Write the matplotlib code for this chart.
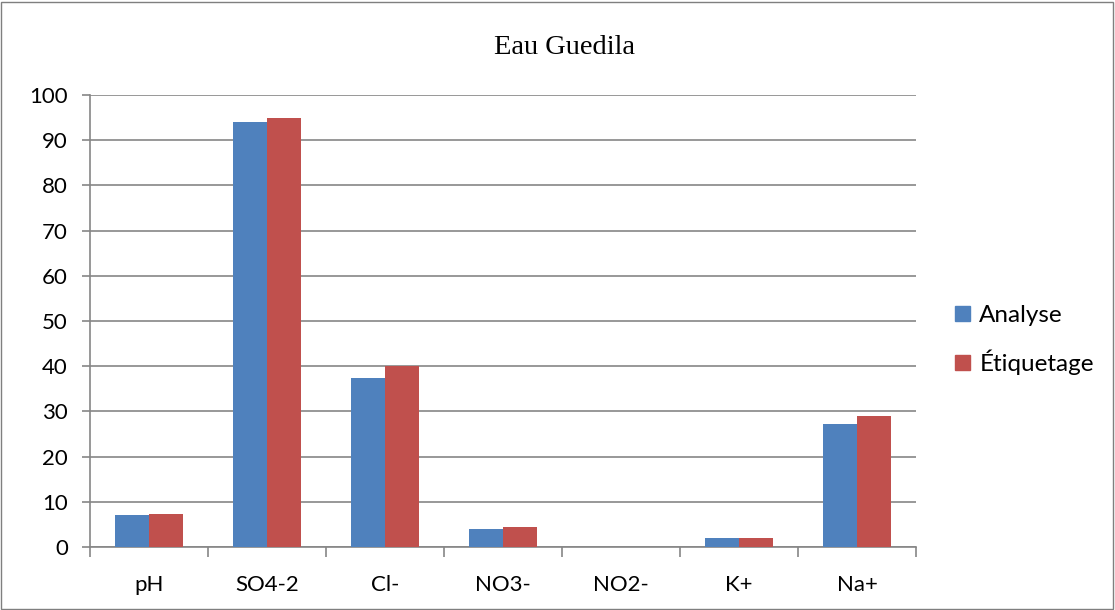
import matplotlib.pyplot as plt
import numpy as np
from matplotlib.patches import Rectangle, Patch

categories = ["pH", "SO4-2", "Cl-", "NO3-", "NO2-", "K+", "Na+"]
analyse = [7.1, 94.0, 37.5, 3.9, 0.0, 1.9, 27.2]
etiquetage = [7.3, 95.0, 40.0, 4.4, 0.0, 2.0, 29.0]

BLUE = "#4F81BD"
RED = "#C0504D"
GRID = "#868686"
SANS = ["Lato", "DejaVu Sans"]

fig = plt.figure(figsize=(11.15, 6.1), dpi=100)
ax = fig.add_axes([90 / 1115, 1 - 547 / 610, (916 - 90) / 1115, (547 - 95) / 610])

x = np.arange(len(categories))
w = 0.285
ax.bar(x - w / 2, analyse, w, color=BLUE, label="Analyse", zorder=3)
ax.bar(x + w / 2, etiquetage, w, color=RED, label="Étiquetage", zorder=3)

ax.set_xlim(-0.5, len(categories) - 0.5)
ax.set_ylim(0, 100)
ax.set_yticks(range(0, 101, 10))
ax.set_xticks(x)
ax.set_xticklabels(categories, fontsize=16, family=SANS)
for lab in ax.get_yticklabels():
    lab.set_fontsize(16)
    lab.set_family(SANS)
ax.tick_params(axis="x", length=0, pad=20)
ax.set_xticks(np.arange(-0.5, len(categories)), minor=True)
ax.tick_params(axis="x", which="minor", length=7, color=GRID, width=1.2)
ax.tick_params(axis="y", length=6, color=GRID, width=1.2, pad=10)
ax.yaxis.grid(True, color=GRID, linewidth=1.2, zorder=0)
ax.set_axisbelow(True)
for side in ["top", "right"]:
    ax.spines[side].set_visible(False)
for side in ["left", "bottom"]:
    ax.spines[side].set_color(GRID)
    ax.spines[side].set_linewidth(1.2)

fig.text(565 / 1115, 1 - 47 / 610, "Eau Guedila", ha="center", va="center",
         fontsize=20.5, family=["Liberation Serif", "DejaVu Serif"])

handles = [Patch(color=BLUE), Patch(color=RED)]
fig.legend(handles, ["Analyse", "Étiquetage"], loc="center left",
           bbox_to_anchor=(955 / 1115, 1 - 340 / 610), frameon=False,
           prop={"family": SANS, "size": 17.5}, handlelength=0.6, handleheight=0.6,
           handletextpad=0.4, labelspacing=0.95, borderpad=0, borderaxespad=0)

fig.patches.append(Rectangle((0.001, 0.002), 0.997, 0.995, transform=fig.transFigure,
                             fill=False, edgecolor="#7f7f7f", linewidth=1))

fig.savefig("out.png", dpi=100)
